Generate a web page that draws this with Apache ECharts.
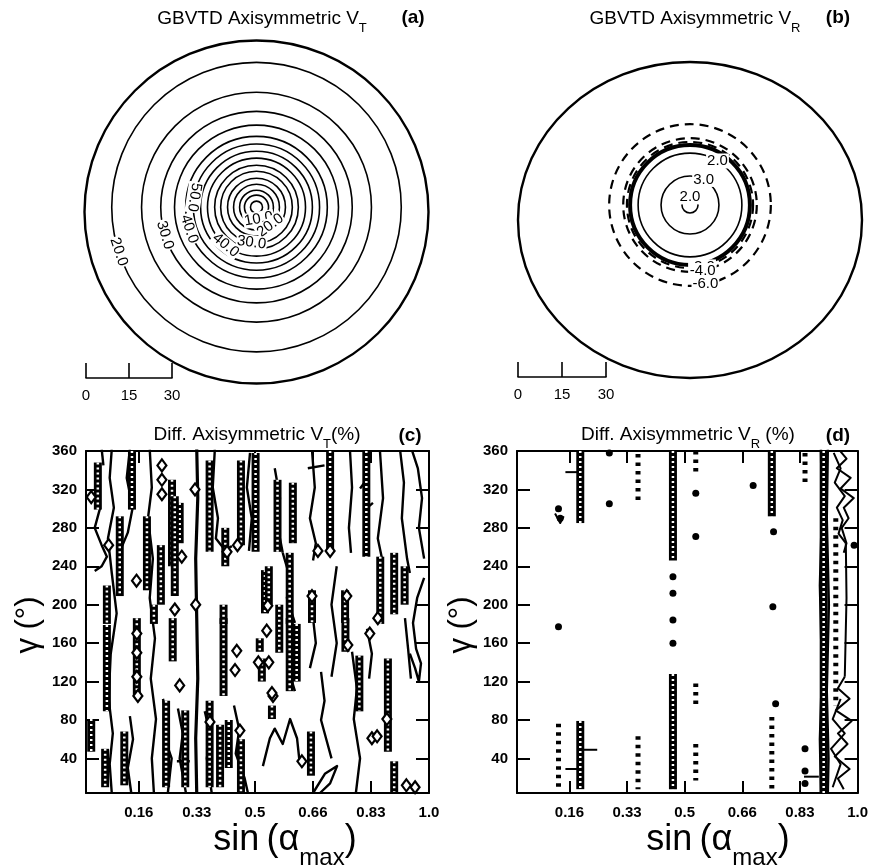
<!DOCTYPE html>
<html>
<head>
<meta charset="utf-8">
<script src="https://cdn.jsdelivr.net/npm/echarts@6/dist/echarts.min.js"></script>
<style>
  html, body { margin: 0; padding: 0; background: #fff; }
  #chart { width: 871px; height: 867px; }
</style>
</head>
<body>
<div id="chart"></div>
<script>
// ---------------- data ----------------
// analysis domain radius (km)
const domainRadiusKm = 60;

// (a) axisymmetric tangential wind: contour rings (radius in km, level in m/s)
const vtCenterKm = [0, 1.7];
const vtRingRadius = [2.1, 4.2, 5.9, 8.0, 10.1, 12.5, 14.6, 17.1, 19.5, 22.0, 24.7, 28.6, 33.4, 40.1, 50.5];
const vtRingLevel  = [5, 10, 15, 20, 25, 30, 35, 40, 45, 50, 40, 35, 30, 25, 20];
// labelled rings: index into the ring arrays, and polar angle (deg, ccw from east)
const vtLabelRing  = [1, 3, 5, 7, 9, 10, 12, 14];
const vtLabelAngle = [280, 307, 262, 231, 171, 198, 197, 198];

// (b) axisymmetric radial wind
const vrCenterKm = [0, 5.7];
const vrRingRadius = [2.8, 10.1, 18.1, 20.9, 22.0, 23.3, 28.2];
const vrRingLevel  = [2.0, 3.0, 2.0, 0.0, -2.0, -4.0, -6.0];
const vrLabelRing  = [0, 1, 2, 4, 5, 6];
const vrLabelAngle = [90, 62, 58, 281, 281, 281];

// distance scale (km)
const scaleKm = [0, 30];

// (c), (d) axes
const xTickValues = [0.1667, 0.3333, 0.5, 0.6667, 0.8333, 1.0];
const xTickLabels = ['0.16', '0.33', '0.5', '0.66', '0.83', '1.0'];
const yTickValues = [40, 80, 120, 160, 200, 240, 280, 320, 360];
const sinRange = [0.015, 1.0];
const gammaRange = [4, 360];

// (c) difference of axisymmetric VT: contour paths [sin(alpha_max), gamma]
const cLines = [
  [[0.089,362],[0.083,332],[0.095,301],[0.078,269],[0.089,233],[0.103,191],[0.086,149],[0.080,102],[0.092,66],[0.083,34],[0.089,4]],
  [[0.333,362],[0.336,311],[0.330,248],[0.333,186],[0.336,123],[0.330,61],[0.333,4]],
  [[0.198,362],[0.204,322],[0.193,290],[0.207,248],[0.198,207],[0.213,165],[0.201,123],[0.216,81],[0.204,40],[0.210,4]],
  [[0.141,362],[0.132,332],[0.149,301],[0.135,275],[0.120,262],[0.105,255]],
  [[0.385,362],[0.379,322],[0.394,290],[0.388,269],[0.414,257],[0.434,261]],
  [[0.486,358],[0.477,322],[0.491,290],[0.483,256]],
  [[0.557,342],[0.572,311],[0.566,280],[0.580,254]],
  [[0.664,361],[0.672,322],[0.658,290],[0.675,264],[0.667,246]],
  [[0.773,361],[0.779,322],[0.770,280],[0.776,254]],
  [[0.859,361],[0.868,311],[0.853,269],[0.865,248]],
  [[0.917,361],[0.928,327],[0.922,290],[0.937,248],[0.945,233]],
  [[0.951,361],[0.968,342],[0.980,311],[0.971,280],[0.986,248]],
  [[0.986,228],[0.966,207],[0.954,181],[0.963,154],[0.977,139],[0.971,120],[0.960,134],[0.945,149]],
  [[0.236,102],[0.250,81],[0.241,61],[0.261,40],[0.250,4]],
  [[0.279,92],[0.293,66],[0.284,40],[0.302,4]],
  [[0.356,89],[0.371,66],[0.362,40],[0.376,4]],
  [[0.601,186],[0.606,154],[0.595,134],[0.615,110]],
  [[0.667,186],[0.675,160],[0.658,134]],
  [[0.523,32],[0.543,61],[0.557,71],[0.580,55],[0.601,81],[0.621,61],[0.629,34]],
  [[0.667,4],[0.701,24],[0.736,32],[0.716,14],[0.687,4]],
  [[0.779,151],[0.793,113],[0.784,81],[0.802,40],[0.790,4]],
  [[0.822,175],[0.836,149],[0.828,123]],
  [[0.931,186],[0.940,154],[0.948,123]],
  [[0.580,254],[0.601,228],[0.592,207],[0.615,181]],
  [[0.141,84],[0.150,60],[0.135,30],[0.145,4]],
  [[0.055,300],[0.040,280],[0.060,262],[0.075,250],[0.060,240],[0.040,235]],
  [[0.440,95],[0.455,70],[0.445,45],[0.470,20],[0.480,4]],
  [[0.690,130],[0.700,100],[0.690,80],[0.705,60],[0.720,40]],
  [[0.735,240],[0.720,200],[0.735,160],[0.720,125]],
  [[0.060,362],[0.065,345]],
  [[0.802,321],[0.825,332]],
  [[0.816,299],[0.839,306]],
  [[0.652,342],[0.700,345]],
  [[0.276,37],[0.313,37]]
];
// (c) chains of small closed contours: [sin(alpha_max), gamma from, gamma to]
const cChains = [
  [0.049,348,299],[0.030,81,47],[0.075,179,89],[0.112,292,209],[0.147,360,299],[0.190,292,215],
  [0.262,330,240],[0.161,186,105],[0.264,186,141],[0.410,186,105],[0.400,75,10],[0.425,80,30],
  [0.460,60,5],[0.514,165,151],[0.520,144,120],[0.600,186,110],[0.760,186,151],[0.549,95,81],
  [0.661,68,22],[0.800,147,89],[0.882,144,47],[0.900,37,5],[0.529,236,191],[0.600,254,180],
  [0.664,215,181],[0.759,215,181],[0.860,250,180],[0.900,254,190],[0.930,240,200],[0.460,350,262],
  [0.609,327,264],[0.716,360,256],[0.820,360,250],[0.284,306,264],[0.270,313,209],[0.245,100,10],
  [0.300,90,10],[0.070,50,10],[0.230,262,200],[0.370,350,255],[0.415,280,240],[0.075,220,180],
  [0.210,200,180],[0.410,200,180],[0.502,358,255],[0.565,330,255],[0.125,68,12],[0.540,240,200],
  [0.570,200,150],[0.620,180,120],[0.370,100,10]
];
// (c) isolated small closed contours
const cCells = [
  [0.233,345],[0.233,330],[0.233,315],[0.328,320],[0.716,256],[0.681,256],[0.664,209],[0.534,173],
  [0.537,199],[0.764,209],[0.767,158],[0.830,170],[0.853,186],[0.879,81],[0.836,61],[0.371,78],
  [0.284,116],[0.164,105],[0.457,69],[0.552,105],[0.448,152],[0.443,132],[0.510,140],[0.540,140],
  [0.549,108],[0.635,37],[0.851,63],[0.161,170],[0.161,150],[0.161,125],[0.450,262],[0.420,255],
  [0.290,250],[0.080,262],[0.030,312],[0.935,12],[0.960,10],[0.160,225],[0.270,195],[0.330,200]
];

// (d) difference of axisymmetric VR
const dLines = [
  [[0.894,362],[0.897,300],[0.891,220],[0.897,130],[0.891,60],[0.894,4]],
  [[0.914,362],[0.911,290],[0.917,200],[0.911,110],[0.916,40],[0.914,4]],
  [[0.155,338],[0.205,338]],
  [[0.204,49],[0.247,49]],
  [[0.155,29],[0.190,29]],
  [[0.845,21],[0.888,21]],
  [[0.125,295],[0.140,285],[0.150,292]],
  [[0.945,362],[0.968,352],[0.940,342],[0.980,332],[0.951,321],[0.989,311],[0.960,301],[0.974,290],[0.954,280],[0.968,264],[0.960,254]],
  [[0.931,358],[0.951,342],[0.934,327],[0.963,313],[0.940,301],[0.957,288],[0.945,274],[0.966,264]],
  [[0.966,264],[0.968,207],[0.963,125]],
  [[0.963,125],[0.943,113],[0.977,102],[0.937,90],[0.983,79],[0.943,66],[0.971,55],[0.934,42],[0.977,29],[0.943,19],[0.960,8]],
  [[0.951,102],[0.928,81],[0.963,66],[0.923,50],[0.951,34],[0.928,10]]
];
const dChains = [
  [0.198,360,285],[0.198,79,8],[0.466,360,246],[0.466,128,8],[0.902,360,4],[0.752,360,292]
];
const dDotted = [
  [0.365,357,308],[0.365,63,8],[0.752,83,8],[0.848,358,324],[0.532,360,334],[0.937,290,95],
  [0.135,76,8],[0.532,55,17],[0.532,118,94]
];
const dDots = [
  [0.282,305],[0.282,358],[0.466,229],[0.466,212],[0.466,184],[0.466,160],[0.135,177],[0.698,324],
  [0.757,276],[0.755,198],[0.763,97],[0.848,50],[0.848,27],[0.848,14],[0.532,271],[0.532,316],
  [0.135,300],[0.140,290],[0.990,262]
];

// ---------------- drawing ----------------
const FONT = 'Liberation Sans, Arial, Helvetica, sans-serif';
const chart = echarts.init(document.getElementById('chart'), null, { renderer: 'canvas' });

const grid = [
  { left: 84.5, top: 40.5, width: 344, height: 343 },  // 0: (a)
  { left: 518, top: 62, width: 344, height: 316 },     // 1: (b)
  { left: 86, top: 363, width: 86, height: 15 },       // 2: scale (a)
  { left: 518, top: 362, width: 88, height: 15 },      // 3: scale (b)
  { left: 86, top: 451, width: 343, height: 342 },     // 4: (c)
  { left: 517, top: 451, width: 342, height: 342 }     // 5: (d)
];

const hiddenAxis = (gi) => ({ gridIndex: gi, type: 'value', min: -domainRadiusKm, max: domainRadiusKm, show: false });

function tickLabel(v) {
  for (let i = 0; i < xTickValues.length; i++) if (Math.abs(xTickValues[i] - v) < 1e-6) return xTickLabels[i];
  return '';
}
const axisLineStyle = { color: '#000', width: 2 };
function xPanel(gi, pos) {
  return {
    gridIndex: gi, type: 'value', min: sinRange[0], max: sinRange[1], position: pos,
    axisLine: { show: true, onZero: false, lineStyle: axisLineStyle },
    axisTick: { show: true, inside: true, length: 12, customValues: xTickValues, lineStyle: { color: '#000', width: 2 } },
    axisLabel: pos === 'bottom'
      ? { show: true, customValues: xTickValues, formatter: tickLabel, color: '#000', fontSize: 15, fontWeight: 'bold', fontFamily: FONT, margin: 12 }
      : { show: false },
    splitLine: { show: false }
  };
}
function yPanel(gi, pos) {
  return {
    gridIndex: gi, type: 'value', min: gammaRange[0], max: gammaRange[1], position: pos,
    axisLine: { show: true, onZero: false, lineStyle: axisLineStyle },
    axisTick: { show: true, inside: true, length: 13, customValues: yTickValues, lineStyle: { color: '#000', width: 2 } },
    axisLabel: pos === 'left'
      ? { show: true, customValues: yTickValues, color: '#000', fontSize: 15, fontWeight: 'bold', fontFamily: FONT, margin: 9 }
      : { show: false },
    splitLine: { show: false }
  };
}
function scaleAxis(gi) {
  return {
    gridIndex: gi, type: 'value', min: scaleKm[0], max: scaleKm[1], interval: 15, position: 'bottom',
    axisLine: { show: true, onZero: false, lineStyle: { color: '#000', width: 1.6 } },
    axisTick: { show: true, inside: true, length: 15, lineStyle: { color: '#000', width: 1.6 } },
    axisLabel: { show: true, color: '#000', fontSize: 15, fontFamily: FONT, margin: 10 },
    splitLine: { show: false }
  };
}

const xAxis = [hiddenAxis(0), hiddenAxis(1), scaleAxis(2), scaleAxis(3), xPanel(4, 'bottom'), xPanel(4, 'top'), xPanel(5, 'bottom'), xPanel(5, 'top')];
const yAxis = [hiddenAxis(0), hiddenAxis(1),
  { gridIndex: 2, type: 'value', min: 0, max: 1, show: false },
  { gridIndex: 3, type: 'value', min: 0, max: 1, show: false },
  yPanel(4, 'left'), yPanel(4, 'right'), yPanel(5, 'left'), yPanel(5, 'right')];

const series = [];

// domain boundary: ellipse spanning the panel's x and y scales
function boundary(ax) {
  series.push({
    type: 'custom', xAxisIndex: ax, yAxisIndex: ax, silent: true, animation: false,
    data: [[0, 0, domainRadiusKm]],
    renderItem: (params, api) => {
      const c = api.coord([api.value(0), api.value(1)]);
      const s = api.size([api.value(2), api.value(2)]);
      return { type: 'ellipse', shape: { cx: c[0], cy: c[1], rx: s[0], ry: s[1] },
        style: { fill: 'none', stroke: '#000', lineWidth: 2.4 } };
    }
  });
}
// concentric vortex rings around the vortex centre
function rings(ax, center, radii, levels, styleOf) {
  series.push({
    type: 'custom', xAxisIndex: ax, yAxisIndex: ax, silent: true, animation: false,
    data: radii.map((r, i) => [center[0], center[1], r, levels[i]]),
    renderItem: (params, api) => {
      const c = api.coord([api.value(0), api.value(1)]);
      const s = api.size([api.value(2), api.value(2)]);
      return {
        type: 'circle',
        shape: { cx: c[0], cy: c[1], r: s[0] },
        style: Object.assign({ fill: 'none', stroke: '#000' }, styleOf(api.value(3)))
      };
    }
  });
}
function ringLabels(ax, center, radii, levels, ringIdx, angles, follow) {
  series.push({
    type: 'custom', xAxisIndex: ax, yAxisIndex: ax, silent: true, animation: false, z: 5,
    data: ringIdx.map((k, i) => [radii[k], angles[i], levels[k]]),
    renderItem: (params, api) => {
      const r = api.value(0), a = api.value(1) * Math.PI / 180;
      const c = api.coord([center[0], center[1]]);
      const s = api.size([r, r]);
      const p = [c[0] + s[0] * Math.cos(a), c[1] - s[0] * Math.sin(a)];
      let rot = 0;
      if (follow) {
        let d = api.value(1) + 90;
        if (d > 90) d -= 360;
        rot = d * Math.PI / 180;
      }
      return {
        type: 'text', x: p[0], y: p[1], rotation: rot,
        style: {
          text: api.value(2).toFixed(1), fontSize: 15, fontFamily: FONT, fill: '#000',
          align: 'center', verticalAlign: 'middle', backgroundColor: '#fff', padding: [0, 1]
        }
      };
    }
  });
}

// (a)
boundary(0);
rings(0, vtCenterKm, vtRingRadius, vtRingLevel, () => ({ lineWidth: 1.6 }));
ringLabels(0, vtCenterKm, vtRingRadius, vtRingLevel, vtLabelRing, vtLabelAngle, true);
// (b)
boundary(1);
rings(1, vrCenterKm, vrRingRadius, vrRingLevel, (lv) => {
  if (lv < 0) return { lineWidth: 2.2, lineDash: [9, 6] };
  if (lv === 0) return { lineWidth: 4 };
  return { lineWidth: 1.6 };
});
ringLabels(1, vrCenterKm, vrRingRadius, vrRingLevel, vrLabelRing, vrLabelAngle, false);

// (c), (d) contours
function polyline(ax, pts, width, dash, color) {
  series.push({
    type: 'line', xAxisIndex: ax, yAxisIndex: ax, data: pts, showSymbol: false, symbol: 'none',
    silent: true, animation: false, clip: true, z: 3,
    lineStyle: { color: color || '#000', width: width, type: dash || 'solid', cap: 'butt', join: 'round', opacity: 1 }
  });
}
function chain(ax, c, outer, inner) {
  polyline(ax, [[c[0], c[1]], [c[0], c[2]]], outer, 'solid');
  polyline(ax, [[c[0], c[1]], [c[0], c[2]]], inner, [2, 3], '#fff');
}
cLines.forEach((p, i) => polyline(4, p, i === 1 ? 3.2 : 2.4));
cChains.forEach(c => chain(4, c, 8, 2.5));
series.push({
  type: 'scatter', xAxisIndex: 4, yAxisIndex: 4, data: cCells, symbol: 'diamond', symbolSize: [9, 12],
  silent: true, animation: false, z: 4, itemStyle: { color: '#fff', borderColor: '#000', borderWidth: 2.2, opacity: 1 }
});

dLines.forEach((p, i) => polyline(6, p, i < 2 ? 2.4 : 2));
dChains.forEach(c => chain(6, c, 8, 2.5));
dDotted.forEach(c => polyline(6, [[c[0], c[1]], [c[0], c[2]]], 5, [3.5, 5]));
series.push({
  type: 'scatter', xAxisIndex: 6, yAxisIndex: 6, data: dDots, symbol: 'circle', symbolSize: 7,
  silent: true, animation: false, z: 4, itemStyle: { color: '#000', opacity: 1 }
});

// ---------------- text ----------------
function titleText(x, y, base, sub, tail) {
  return {
    type: 'text', x: x, y: y, silent: true,
    style: {
      text: '{b|' + base + '}{s|' + sub + '}' + (tail ? '{b|' + tail + '}' : ''),
      align: 'center', verticalAlign: 'middle',
      rich: {
        b: { fontSize: 19, fontFamily: FONT, fill: '#000', lineHeight: 26, verticalAlign: 'top' },
        s: { fontSize: 13, fontFamily: FONT, fill: '#000', lineHeight: 13, verticalAlign: 'bottom' }
      }
    }
  };
}
function letter(x, y, t) {
  return { type: 'text', x: x, y: y, silent: true,
    style: { text: t, fontSize: 19, fontWeight: 'bold', fontFamily: FONT, fill: '#000', align: 'center', verticalAlign: 'middle' } };
}
function sinLabel(x, y) {
  return {
    type: 'text', x: x, y: y, silent: true,
    style: {
      text: '{b|sin\u2009(α}{s|max}{b|)}', align: 'center', verticalAlign: 'middle',
      rich: {
        b: { fontSize: 36, fontFamily: FONT, fill: '#000', lineHeight: 48, verticalAlign: 'top' },
        s: { fontSize: 24, fontFamily: FONT, fill: '#000', lineHeight: 24, verticalAlign: 'bottom' }
      }
    }
  };
}
function gammaLabel(x, y) {
  return { type: 'text', x: x, y: y, rotation: Math.PI / 2, silent: true,
    style: { text: 'γ (°)', fontSize: 31, fontFamily: FONT, fill: '#000', align: 'center', verticalAlign: 'middle' } };
}

const graphic = [
  titleText(262, 22, 'GBVTD Axisymmetric V', 'T'),
  letter(413, 18, '(a)'),
  titleText(695, 22, 'GBVTD Axisymmetric V', 'R'),
  letter(838, 18, '(b)'),
  titleText(257, 438, 'Diff. Axisymmetric V', 'T', '(%)'),
  letter(410, 436, '(c)'),
  titleText(688, 438, 'Diff. Axisymmetric V', 'R', ' (%)'),
  letter(838, 436, '(d)'),
  sinLabel(285, 846),
  sinLabel(718, 846),
  gammaLabel(28, 625),
  gammaLabel(461, 625)
];

chart.setOption({
  animation: false,
  backgroundColor: '#fff',
  grid: grid,
  xAxis: xAxis,
  yAxis: yAxis,
  series: series,
  graphic: graphic
});
</script>
</body>
</html>
